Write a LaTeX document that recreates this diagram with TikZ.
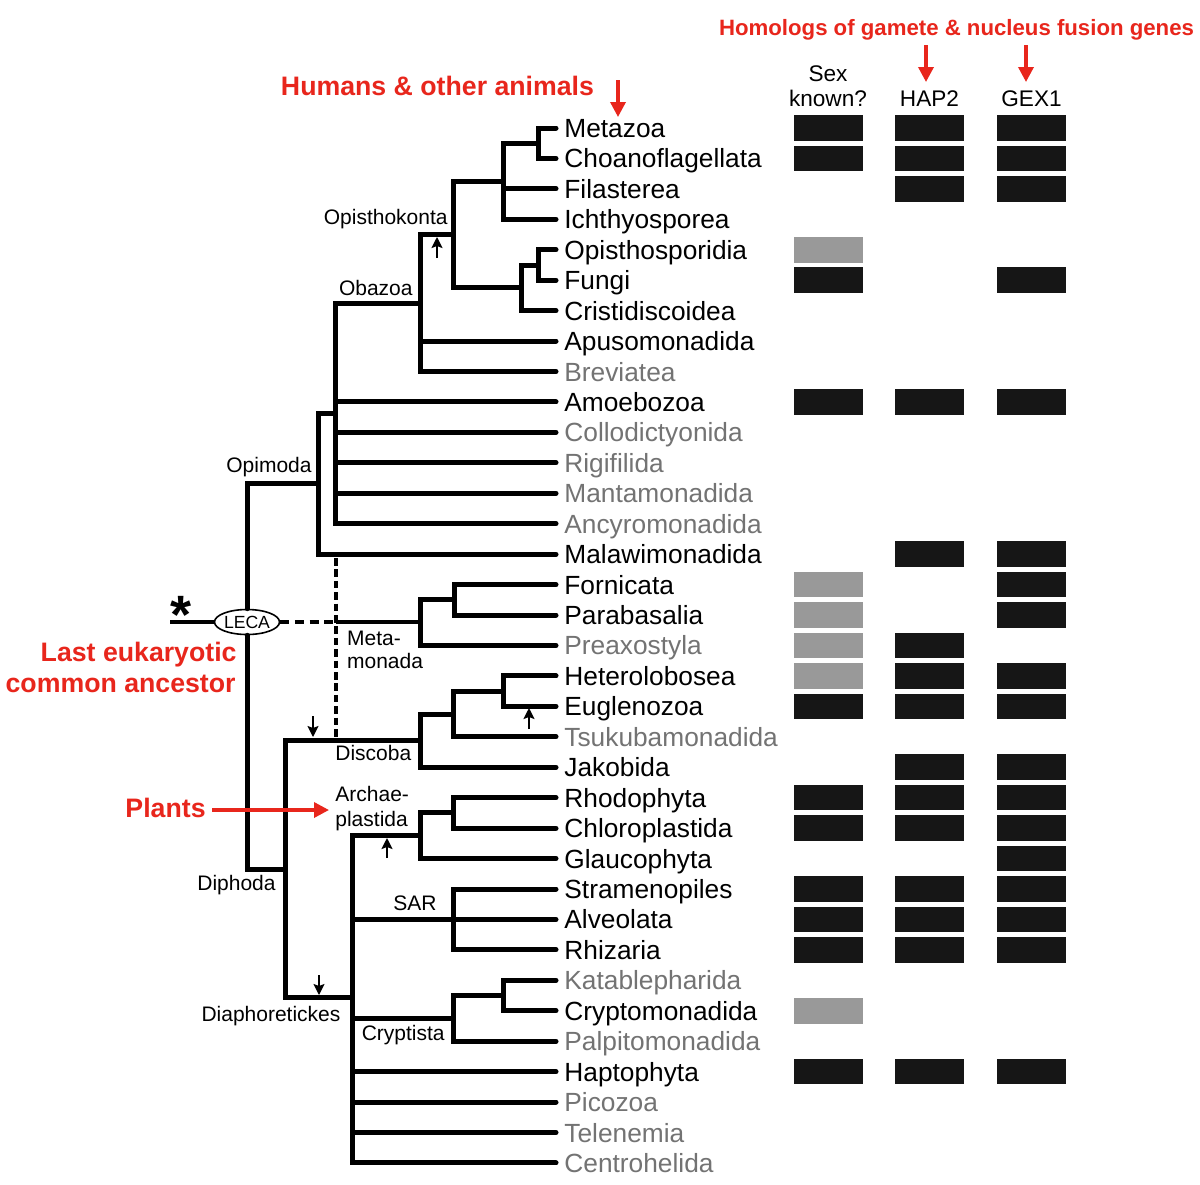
\documentclass[tikz,border=0pt]{standalone}
\usepackage{fontspec}
\setmainfont{Liberation Sans}
\usetikzlibrary{arrows.meta,shapes.geometric}
\definecolor{redlab}{RGB}{232,38,28}
\definecolor{graytx}{RGB}{115,115,115}
\definecolor{boxblack}{RGB}{22,22,22}
\definecolor{boxgray}{RGB}{153,153,153}
\begin{document}
\begin{tikzpicture}[x=0.5pt,y=-0.5pt,
  tree/.style={line width=2.5pt, line cap=round, line join=miter},
  rootline/.style={line width=2.1pt},
  thinlink/.style={line width=1.6pt},
  dashh/.style={line width=2.2pt, dash pattern=on 4.5pt off 2.8pt},
  dashv/.style={line width=2.2pt, dash pattern=on 3.8pt off 1.9pt},
  smallarrow/.style={line width=0.9pt, -{Stealth[length=5.5pt,width=5.5pt,inset=1pt]}},
  redarrow/.style={draw=redlab, line width=1.7pt, -{Triangle[length=7.5pt,width=7.5pt]}},
  taxon/.style={font=\fontsize{13.15}{15}\selectfont, inner sep=0pt},
  clade/.style={font=\fontsize{10.5}{12}\selectfont, inner sep=0pt},
  hdr/.style={font=\fontsize{11.3}{13}\selectfont, inner sep=0pt},
  redbig/.style={font=\fontsize{13.35}{15}\selectfont\bfseries, text=redlab, inner sep=0pt},
  redsmall/.style={font=\fontsize{11.1}{13}\selectfont\bfseries, text=redlab, inner sep=0pt},
  bk/.style={fill=boxblack, minimum width=34.5pt, minimum height=12.8pt, inner sep=0pt},
  gy/.style={fill=boxgray, minimum width=34.5pt, minimum height=12.8pt, inner sep=0pt}
]
\fill[white] (0,0) rectangle (1200,1184);
\useasboundingbox (0,0) rectangle (1200,1184);

% leaves
\foreach \nm/\cl [count=\i from 0] in {Metazoa/black, Choanoflagellata/black, Filasterea/black, Ichthyosporea/black, Opisthosporidia/black, Fungi/black, Cristidiscoidea/black, Apusomonadida/black, Breviatea/graytx, Amoebozoa/black, Collodictyonida/graytx, Rigifilida/graytx, Mantamonadida/graytx, Ancyromonadida/graytx, Malawimonadida/black, Fornicata/black, Parabasalia/black, Preaxostyla/graytx, Heterolobosea/black, Euglenozoa/black, Tsukubamonadida/graytx, Jakobida/black, Rhodophyta/black, Chloroplastida/black, Glaucophyta/black, Stramenopiles/black, Alveolata/black, Rhizaria/black, Katablepharida/graytx, Cryptomonadida/black, Palpitomonadida/graytx, Haptophyta/black, Picozoa/graytx, Telenemia/graytx, Centrohelida/graytx}{
  \pgfmathsetmacro\yy{128+30.44*\i}
  \coordinate (L\i) at (556,\yy);
  \node[taxon, text=\cl, anchor=base west] (T\i) at (564,\yy+9.5) {\nm};
}

% internal nodes
\coordinate (a1) at (538,143.2);
\coordinate (a2) at (503,181);
\coordinate (a3) at (538,265);
\coordinate (a4) at (521,287.8);
\coordinate (opk) at (453,234.4);
\coordinate (obz) at (420,303);
\coordinate (b1) at (335,413.4);
\coordinate (opm) at (318,483.8);
\coordinate (m1) at (454,599.8);
\coordinate (mt) at (420,622);
\coordinate (d1) at (503,691.1);
\coordinate (d2) at (453,714);
\coordinate (dsc) at (420,740.6);
\coordinate (p1) at (453,812.9);
\coordinate (arch) at (420,835.7);
\coordinate (sar) at (453,919.44);
\coordinate (c1) at (503,995.5);
\coordinate (cry) at (453,1018.4);
\coordinate (dia) at (352,997.7);
\coordinate (diph) at (285,869);
\node[draw, ellipse, line width=0.8pt, fill=white, minimum width=31pt, minimum height=12.5pt, inner sep=0pt, font=\fontsize{8.8}{10}\selectfont] (leca) at (247,622) {LECA};
\coordinate (root) at (170,622);
\coordinate (dj) at (336,622);
\coordinate (dv1) at (336,558);
\coordinate (dv2) at (336,738);

% tree edges
\foreach \c/\p in {L0/a1, L1/a1, a1/a2, L2/a2, L3/a2, L4/a3, L5/a3, a3/a4, L6/a4, a2/opk, a4/opk, opk/obz, L7/obz, L8/obz, obz/b1, L9/b1, L10/b1, L11/b1, L12/b1, L13/b1, b1/opm, L14/opm, L15/m1, L16/m1, m1/mt, L17/mt, L18/d1, L19/d1, d1/d2, L20/d2, d2/dsc, L21/dsc, L22/p1, L23/p1, p1/arch, L24/arch, L25/sar, L26/sar, L27/sar, L28/c1, L29/c1, c1/cry, L30/cry, arch/dia, sar/dia, cry/dia, L31/dia, L32/dia, L33/dia, L34/dia, dsc/diph, dia/diph}{
  \draw[tree] (\c) -| (\p);
}
\draw[tree] (opm) -| (leca);
\draw[tree] (diph) -| (leca);
\draw[rootline] (root) -- (leca);
\draw[dashh] (leca) -- (dj);
\draw[thinlink] (dj) -- (mt);
\draw[dashv] (dv1) -- (dv2);

% small arrows
\coordinate (ar1a) at (437,258); \coordinate (ar1b) at (437,237);
\coordinate (ar2a) at (529,729); \coordinate (ar2b) at (529,708);
\coordinate (ar3a) at (313,716); \coordinate (ar3b) at (313,737);
\coordinate (ar4a) at (387,858); \coordinate (ar4b) at (387,838);
\coordinate (ar5a) at (319,975); \coordinate (ar5b) at (319,995);
\draw[smallarrow] (ar1a) -- (ar1b);
\draw[smallarrow] (ar2a) -- (ar2b);
\draw[smallarrow] (ar3a) -- (ar3b);
\draw[smallarrow] (ar4a) -- (ar4b);
\draw[smallarrow] (ar5a) -- (ar5b);

% clade labels
\node[clade, anchor=base east] (lOpk) at (448,224.3) {Opisthokonta};
\node[clade, anchor=base east] (lObz) at (413,295) {Obazoa};
\node[clade, anchor=base east] (lOpm) at (312,472.7) {Opimoda};
\node[clade, anchor=base west] (lMt1) at (346.7,645) {Meta-};
\node[clade, anchor=base west] (lMt2) at (346.7,668) {monada};
\node[clade, anchor=base west] (lDsc) at (335,760) {Discoba};
\node[clade, anchor=base west] (lAr1) at (335,801.7) {Archae-};
\node[clade, anchor=base west] (lAr2) at (335,826) {plastida};
\node[clade, anchor=base east] (lDph) at (276,890.7) {Diphoda};
\node[clade, anchor=base east] (lSar) at (437,910.7) {SAR};
\node[clade, anchor=base] (lDia) at (271,1021.7) {Diaphoretickes};
\node[clade, anchor=base east] (lCry) at (445,1040) {Cryptista};

% asterisk
\node[inner sep=0pt, anchor=base, font=\fontsize{27}{27}\selectfont\bfseries] (ast) at (181,633) {*};

% red annotations
\node[redbig, anchor=base] (humans) at (437.5,95) {Humans \& other animals};
\coordinate (hu1) at (618,80); \coordinate (hu2) at (618,117);
\draw[redarrow] (hu1) -- (hu2);
\node[redsmall, anchor=base] (homol) at (956.5,35) {Homologs of gamete \& nucleus fusion genes};
\coordinate (ho1) at (926,45); \coordinate (ho2) at (926,82);
\coordinate (ho3) at (1026,45); \coordinate (ho4) at (1026,82);
\draw[redarrow] (ho1) -- (ho2);
\draw[redarrow] (ho3) -- (ho4);
\node[redbig, anchor=base east] (last1) at (237,661) {Last eukaryotic};
\node[redbig, anchor=base east] (last2) at (236,692) {common ancestor};
\node[redbig, anchor=base east] (plants) at (206,817) {Plants};
\coordinate (pl1) at (212,810); \coordinate (pl2) at (329,810);
\draw[redarrow] (pl1) -- (pl2);

% headers
\node[hdr, anchor=base] (hs1) at (828,81) {Sex};
\node[hdr, anchor=base] (hs2) at (828,106) {known?};
\node[hdr, anchor=base] (hh) at (929.5,106) {HAP2};
\node[hdr, anchor=base] (hg) at (1031.5,106) {GEX1};

% boxes
\foreach \r in {0,1,5,9,19,22,23,25,26,27,31}{
  \node[bk] (s\r) at (828,{128+30.44*\r}) {};
}
\foreach \r in {4,15,16,17,18,29}{
  \node[gy] (s\r) at (828,{128+30.44*\r}) {};
}
\foreach \r in {0,1,2,9,14,17,18,19,21,22,23,25,26,27,31}{
  \node[bk] (h\r) at (929.5,{128+30.44*\r}) {};
}
\foreach \r in {0,1,2,5,9,14,15,16,18,19,21,22,23,24,25,26,27,31}{
  \node[bk] (g\r) at (1031.5,{128+30.44*\r}) {};
}
\end{tikzpicture}
\end{document}
